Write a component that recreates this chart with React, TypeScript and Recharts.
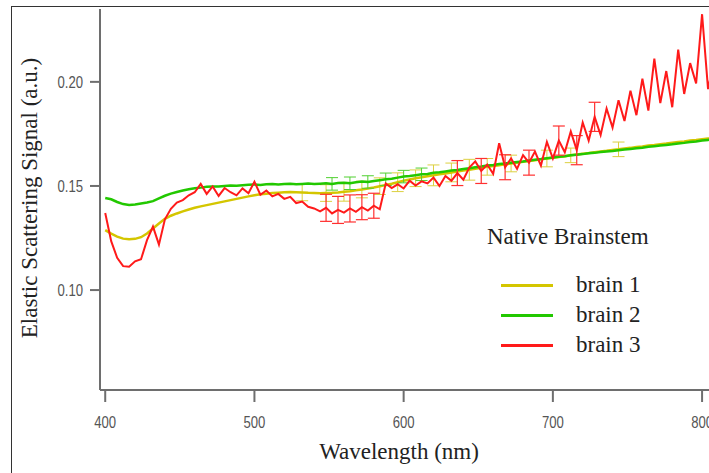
import { LineChart, Line, XAxis, YAxis, ErrorBar, Legend, Label } from 'recharts';

const wavelengths = [
  400, 404, 408, 412, 416, 420, 424, 428, 432, 436,
  440, 444, 448, 452, 456, 460, 464, 468, 472, 476,
  480, 484, 488, 492, 496, 500, 504, 508, 512, 516,
  520, 524, 528, 532, 536, 540, 544, 548, 552, 556,
  560, 564, 568, 572, 576, 580, 584, 588, 592, 596,
  600, 604, 608, 612, 616, 620, 624, 628, 632, 636,
  640, 644, 648, 652, 656, 660, 664, 668, 672, 676,
  680, 684, 688, 692, 696, 700, 704, 708, 712, 716,
  720, 724, 728, 732, 736, 740, 744, 748, 752, 756,
  760, 764, 768, 772, 776, 780, 784, 788, 792, 796,
  800, 804, 808,
];

const brain1 = [
  0.1288, 0.1271, 0.1257, 0.1247, 0.1244, 0.1246, 0.1254, 0.1272, 0.1296, 0.1320,
  0.1342, 0.1357, 0.1368, 0.1378, 0.1387, 0.1395, 0.1402, 0.1408, 0.1414, 0.1420,
  0.1426, 0.1432, 0.1438, 0.1444, 0.1450, 0.1455, 0.1460, 0.1463, 0.1466, 0.1468,
  0.1470, 0.1471, 0.1470, 0.1469, 0.1467, 0.1466, 0.1465, 0.1466, 0.1467, 0.1469,
  0.1472, 0.1475, 0.1479, 0.1483, 0.1488, 0.1493, 0.1499, 0.1505, 0.1511, 0.1518,
  0.1525, 0.1531, 0.1537, 0.1542, 0.1547, 0.1551, 0.1556, 0.1560, 0.1565, 0.1569,
  0.1574, 0.1578, 0.1583, 0.1587, 0.1592, 0.1596, 0.1600, 0.1604, 0.1608, 0.1612,
  0.1616, 0.1620, 0.1624, 0.1628, 0.1632, 0.1636, 0.1639, 0.1643, 0.1647, 0.1651,
  0.1655, 0.1658, 0.1662, 0.1666, 0.1669, 0.1673, 0.1676, 0.1680, 0.1683, 0.1687,
  0.1690, 0.1694, 0.1697, 0.1701, 0.1704, 0.1708, 0.1711, 0.1714, 0.1718, 0.1721,
  0.1725, 0.1728, 0.1731,
];

const brain2 = [
  0.1442, 0.1436, 0.1423, 0.1413, 0.1409, 0.1411, 0.1416, 0.1421, 0.1427, 0.1440,
  0.1453, 0.1463, 0.1471, 0.1478, 0.1484, 0.1489, 0.1492, 0.1496, 0.1498, 0.1497,
  0.1500, 0.1502, 0.1501, 0.1504, 0.1506, 0.1507, 0.1505, 0.1508, 0.1510, 0.1507,
  0.1509, 0.1511, 0.1508, 0.1510, 0.1512, 0.1509, 0.1511, 0.1513, 0.1510, 0.1514,
  0.1516, 0.1513, 0.1518, 0.1521, 0.1519, 0.1524, 0.1528, 0.1532, 0.1535, 0.1540,
  0.1545, 0.1548, 0.1552, 0.1556, 0.1558, 0.1563, 0.1566, 0.1570, 0.1574, 0.1577,
  0.1582, 0.1585, 0.1590, 0.1593, 0.1598, 0.1601, 0.1605, 0.1608, 0.1612, 0.1615,
  0.1618, 0.1622, 0.1626, 0.1629, 0.1633, 0.1637, 0.1640, 0.1643, 0.1647, 0.1650,
  0.1653, 0.1657, 0.1659, 0.1663, 0.1666, 0.1668, 0.1672, 0.1675, 0.1678, 0.1681,
  0.1684, 0.1688, 0.1691, 0.1694, 0.1697, 0.1700, 0.1704, 0.1707, 0.1711, 0.1714,
  0.1718, 0.1721, 0.1724,
];

const brain3 = [
  0.1370, 0.1235, 0.1155, 0.1115, 0.1112, 0.1138, 0.1148, 0.1240, 0.1305, 0.1218,
  0.1340, 0.1390, 0.1420, 0.1432, 0.1455, 0.1470, 0.1510, 0.1462, 0.1498, 0.1452,
  0.1490, 0.1470, 0.1455, 0.1488, 0.1465, 0.1520, 0.1458, 0.1478, 0.1450, 0.1462,
  0.1438, 0.1448, 0.1418, 0.1425, 0.1400, 0.1392, 0.1378, 0.1395, 0.1368, 0.1385,
  0.1372, 0.1392, 0.1376, 0.1398, 0.1382, 0.1405, 0.1388, 0.1512, 0.1490, 0.1508,
  0.1488, 0.1525, 0.1502, 0.1522, 0.1512, 0.1540, 0.1500, 0.1548, 0.1525, 0.1562,
  0.1530, 0.1588, 0.1618, 0.1572, 0.1603, 0.1558, 0.1705, 0.1590, 0.1632, 0.1582,
  0.1648, 0.1612, 0.1665, 0.1598, 0.1712, 0.1632, 0.1718, 0.1662, 0.1762, 0.1672,
  0.1805, 0.1718, 0.1832, 0.1745, 0.1872, 0.1780, 0.1912, 0.1812, 0.1958, 0.1840,
  0.2015, 0.1862, 0.2112, 0.1898, 0.2052, 0.1878, 0.2155, 0.1942, 0.2090, 0.1992,
  0.2325, 0.1965, 0.2100,
];

// [wavelength, error] pairs, only where the reference shows a bar
const brain1Errors: [number, number][] = [
  [532, 0.004], [548, 0.004], [560, 0.0045], [572, 0.004], [584, 0.004],
  [596, 0.0045], [608, 0.004], [620, 0.005], [632, 0.0045], [644, 0.005],
  [656, 0.004], [672, 0.004], [696, 0.004], [712, 0.0035], [744, 0.0035],
];
const brain2Errors: [number, number][] = [
  [552, 0.003], [564, 0.003], [576, 0.003], [588, 0.003], [600, 0.003], [612, 0.003],
];
const brain3Errors: [number, number][] = [
  [548, 0.0065], [556, 0.0065], [564, 0.0065], [572, 0.006], [580, 0.006],
  [636, 0.006], [652, 0.006], [668, 0.006], [684, 0.006], [704, 0.007],
  [716, 0.007], [728, 0.007],
];

const xTicks = [400, 500, 600, 700, 800];
const yTicks = [0.1, 0.15, 0.2];

const errAt = (list: [number, number][], nm: number) => {
  const hit = list.find((e) => e[0] === nm);
  return hit ? hit[1] : null;
};

const data = wavelengths.map((nm, i) => ({
  nm,
  b1: brain1[i],
  b2: brain2[i],
  b3: brain3[i],
  e1: errAt(brain1Errors, nm),
  e2: errAt(brain2Errors, nm),
  e3: errAt(brain3Errors, nm),
}));

const SERIF = '"Liberation Serif", "Times New Roman", serif';
const SANS = '"Liberation Sans", Arial, sans-serif';
const AXIS = '#6e6e6e';

// narrow grey tick labels, squeezed horizontally
const XTick = (props: any) => {
  const { x, y, payload } = props;
  return (
    <g transform={`translate(${x},${y})`}>
      <text transform="scale(0.82,1)" textAnchor="middle" dy="0.71em" fill="#555" fontSize={16} fontFamily={SANS}>
        {payload.value}
      </text>
    </g>
  );
};

const YTick = (props: any) => {
  const { x, y, payload } = props;
  return (
    <g transform={`translate(${x},${y})`}>
      <text transform="scale(0.82,1)" textAnchor="end" dy="0.355em" fill="#555" fontSize={16} fontFamily={SANS}>
        {Number(payload.value).toFixed(2)}
      </text>
    </g>
  );
};

const renderLegend = (props: any) => (
  <div style={{ fontFamily: SERIF, color: '#222', fontSize: 23 }}>
    <div style={{ height: 26, lineHeight: '26px' }}>Native Brainstem</div>
    <div style={{ height: 20 }} />
    {(props.payload || []).map((p: any) => (
      <div key={p.value} style={{ display: 'flex', alignItems: 'center', height: 30 }}>
        <div style={{ width: 52, height: 3, marginLeft: 14, background: p.color }} />
        <div style={{ marginLeft: 23, lineHeight: '30px' }}>{p.value}</div>
      </div>
    ))}
  </div>
);

const App = () => {
  return (
    <div style={{ position: 'absolute', left: 0, top: 0, width: 709, height: 473, overflow: 'hidden', background: '#fff' }}>
      <div style={{ position: 'absolute', left: 11, top: 6, width: 800, height: 600, borderLeft: '1.5px solid #333', borderTop: '1.5px solid #333' }} />
      <LineChart width={720} height={473} data={data} margin={{ top: 9, right: 3, left: 0, bottom: 0 }}>
        <XAxis
          dataKey="nm"
          type="number"
          domain={[396.5, 810]}
          allowDataOverflow
          ticks={xTicks}
          height={83}
          tickSize={12}
          tickMargin={15}
          axisLine={{ stroke: AXIS, strokeWidth: 2 }}
          tickLine={{ stroke: AXIS, strokeWidth: 2 }}
          tick={<XTick />}
        >
          <Label
            content={() => (
              <text x={399} y={459} textAnchor="middle" fontFamily={SERIF} fontSize={23} fill="#222">
                Wavelength (nm)
              </text>
            )}
          />
        </XAxis>
        <YAxis
          type="number"
          domain={[0.052, 0.235]}
          allowDataOverflow
          ticks={yTicks}
          width={100}
          tickSize={10}
          tickMargin={7}
          axisLine={{ stroke: AXIS, strokeWidth: 2 }}
          tickLine={{ stroke: AXIS, strokeWidth: 2 }}
          tick={<YTick />}
        >
          <Label
            content={() => (
              <text x={37} y={198} transform="rotate(-90 37 198)" textAnchor="middle" fontFamily={SERIF} fontSize={23} fill="#222">
                Elastic Scattering Signal (a.u.)
              </text>
            )}
          />
        </YAxis>
        <Legend
          content={renderLegend}
          layout="vertical"
          align="center"
          verticalAlign="middle"
          wrapperStyle={{ left: 487, top: 224, width: 210 }}
        />
        <Line dataKey="b1" name="brain 1" stroke="#d4c600" strokeWidth={2.5} dot={false} isAnimationActive={false}>
          <ErrorBar dataKey="e1" width={6} stroke="#dcd040" strokeWidth={1} direction="y" />
        </Line>
        <Line dataKey="b2" name="brain 2" stroke="#22c800" strokeWidth={2.5} dot={false} isAnimationActive={false}>
          <ErrorBar dataKey="e2" width={6} stroke="#50d030" strokeWidth={1} direction="y" />
        </Line>
        <Line dataKey="b3" name="brain 3" stroke="#ff1a1a" strokeWidth={2} dot={false} isAnimationActive={false}>
          <ErrorBar dataKey="e3" width={6} stroke="#ff3030" strokeWidth={1.2} direction="y" />
        </Line>
      </LineChart>
    </div>
  );
};

export default App;
